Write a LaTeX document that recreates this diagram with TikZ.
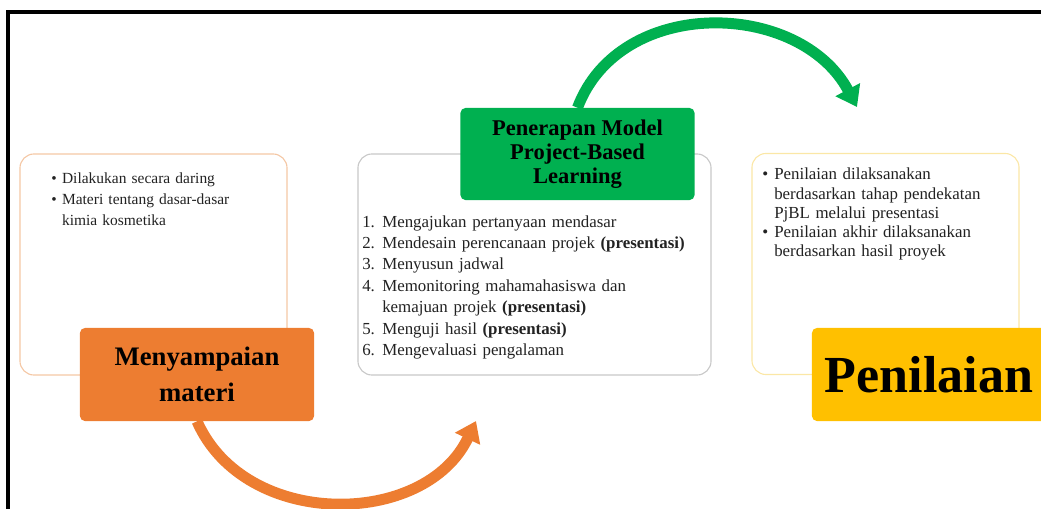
\documentclass[tikz,border=0pt]{standalone}
\usepackage{fontspec}
\setmainfont{Liberation Serif}
\usetikzlibrary{arrows.meta}

\definecolor{matorange}{HTML}{ED7D31}
\definecolor{matline}{HTML}{F4C7A4}
\definecolor{pjblgreen}{HTML}{00B050}
\definecolor{pjblline}{HTML}{C8C8C8}
\definecolor{nilyellow}{HTML}{FFC000}
\definecolor{nilline}{HTML}{FBE7A6}
\definecolor{bodygray}{HTML}{222222}

\newcommand{\hangitem}[2]{\par\hangindent=#1\hangafter=1\noindent\makebox[#1][l]{#2}}

\begin{document}
\begin{tikzpicture}[x=0.025cm, y=-0.025cm,
  txtbox/.style={draw, line width=0.8pt, rounded corners=10pt, minimum width=#1, minimum height=5.525cm, inner sep=0pt},
  titlebox/.style={fill=#1, rounded corners=3.5pt, minimum width=5.85cm, minimum height=2.325cm, align=center, inner sep=0pt},
  bodytxt/.style={anchor=north west, inner sep=0pt, text width=#1, text=bodygray},
  flow/.style={line width=7.8pt, -{Triangle[length=14pt,width=19pt]}}]

\clip (0,0) rectangle (1041,508);

\draw [line width=3pt] (8,510) -- (8,12) -- (1045,12);

\node [txtbox=6.675cm, draw=matline]  (matbox)  at (153.5,264.5) {};
\node [txtbox=8.825cm, draw=pjblline] (pjblbox) at (534.5,264.5) {};
\node [txtbox=6.675cm, draw=nilline]  (nilbox)  at (885.5,264) {};

\node [bodytxt=5.8cm, font=\fontsize{11}{15}\selectfont\raggedright] (mattxt) at (51,162) {%
\hangitem{0.27cm}{\textbullet}Dilakukan secara daring
\hangitem{0.27cm}{\textbullet}Materi tentang dasar-dasar\newline kimia kosmetika\par};

\node [bodytxt=8.6cm, font=\fontsize{12}{15.2}\selectfont\raggedright] (pjbltxt) at (362,205.5) {%
\hangitem{0.5cm}{1.}Mengajukan pertanyaan mendasar
\hangitem{0.5cm}{2.}Mendesain perencanaan projek \textbf{(presentasi)}
\hangitem{0.5cm}{3.}Menyusun jadwal
\hangitem{0.5cm}{4.}Memonitoring mahamahasiswa dan\newline kemajuan projek \textbf{(presentasi)}
\hangitem{0.5cm}{5.}Menguji hasil \textbf{(presentasi)}
\hangitem{0.5cm}{6.}Mengevaluasi pengalaman\par};

\node [bodytxt=6.3cm, font=\fontsize{12}{13.6}\selectfont\raggedright] (niltxt) at (762,160.5) {%
\hangitem{0.3cm}{\textbullet}Penilaian dilaksanakan\newline berdasarkan tahap pendekatan\newline PjBL melalui presentasi
\hangitem{0.3cm}{\textbullet}Penilaian akhir dilaksanakan\newline berdasarkan hasil proyek\par};

\node [titlebox=matorange, font=\fontsize{19}{26}\selectfont\bfseries] (mat) at (197,374.5) {Menyampaian\\materi};
\node [titlebox=pjblgreen, minimum height=2.3cm, font=\fontsize{16}{17}\selectfont\bfseries] (pjbl) at (577.5,154) {Penerapan Model\\Project-Based\\Learning};
\node [titlebox=nilyellow, font=\fontsize{37}{40}\selectfont\bfseries] (nil) at (929,374.5) {Penilaian};

\coordinate (mattip) at (476,421);
\coordinate (pjbltip) at (857,107);

\draw [flow, matorange] (mat.south) .. controls (245,530) and (425,528) .. (mattip); %mat-pjbl
\draw [flow, pjblgreen] (pjbl.north) .. controls (620,-5) and (800,0) .. (pjbltip); %pjbl-nil

\end{tikzpicture}
\end{document}
